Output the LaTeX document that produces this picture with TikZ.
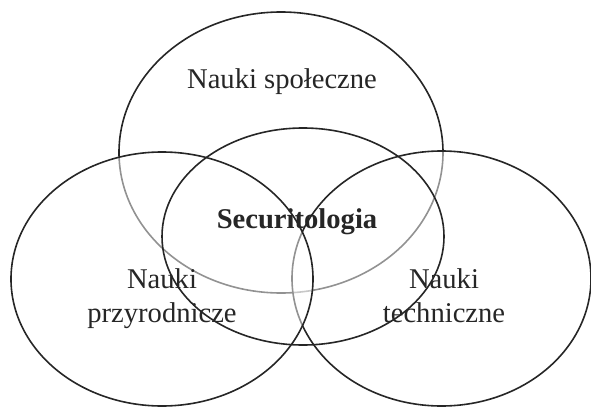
\documentclass[tikz,border=0pt]{standalone}
\usepackage{fontspec}
\setmainfont{Liberation Serif}
\tikzset{
%Define style for the fields of the diagram
field/.style={line width=1.6pt, draw=black!85},
%half transparent white fill, so lines behind it turn grey
veiled field/.style={field, fill=white, fill opacity=0.5},
%Define style for the labels
field label/.style={font=\fontsize{28.6}{34}\selectfont, align=center, text=black!85},
}

\begin{document}
\begin{tikzpicture}[x=1pt,y=-1pt]
\useasboundingbox (0,0) rectangle (591,407);

% social sciences
\draw[field] (281,152.5) ellipse [x radius=162, y radius=140.5];
% technical sciences
\draw[veiled field] (441.5,278.5) ellipse [x radius=149.5, y radius=127.5];
% natural sciences
\draw[veiled field] (162,279) ellipse [x radius=151, y radius=127];
% securitology
\draw[field] (303,236.5) ellipse [x radius=141, y radius=108.5];

\node[field label, anchor=base] (social) at (282,88) {Nauki społeczne};
\node[field label, anchor=base, font=\fontsize{28.6}{34}\selectfont\bfseries] (secur) at (297,228) {Securitologia};
% base of a two line node is the last line
\node[field label, anchor=base] (natural) at (162,322) {Nauki\\przyrodnicze};
\node[field label, anchor=base] (technical) at (444,322) {Nauki\\techniczne};

\end{tikzpicture}
\end{document}
